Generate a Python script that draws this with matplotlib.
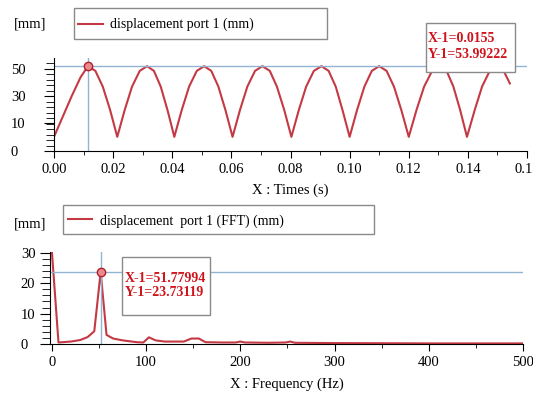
import matplotlib
matplotlib.use("Agg")
import matplotlib.pyplot as plt
from matplotlib.patches import Rectangle
from matplotlib.ticker import MultipleLocator

plt.rcParams["font.family"] = ["Liberation Serif", "DejaVu Serif"]

# displacement vs time
t = [0.0000, 0.0030, 0.0060, 0.0090, 0.0115, 0.0140, 0.0165, 0.0190, 0.0214,
     0.0239, 0.0264, 0.0290, 0.0315, 0.0338, 0.0361, 0.0384, 0.0407,
     0.0432, 0.0457, 0.0483, 0.0508, 0.0532, 0.0556, 0.0580, 0.0604,
     0.0629, 0.0654, 0.0680, 0.0705, 0.0730, 0.0754, 0.0779, 0.0803,
     0.0828, 0.0853, 0.0879, 0.0905, 0.0929, 0.0953, 0.0976, 0.1000,
     0.1025, 0.1050, 0.1075, 0.1100, 0.1125, 0.1150, 0.1175, 0.1200,
     0.1226, 0.1252, 0.1279, 0.1305, 0.1328, 0.1351, 0.1374, 0.1397,
     0.1423, 0.1448, 0.1474, 0.1500, 0.1521, 0.1542]
disp = [9, 22, 35, 47, 54, 51, 41, 26, 9,
        26, 41, 51, 54, 51, 41, 26, 9,
        26, 41, 51, 54, 51, 41, 26, 9,
        26, 41, 51, 54, 51, 41, 26, 9,
        26, 41, 51, 54, 51, 41, 26, 9,
        26, 41, 51, 54, 51, 41, 26, 9,
        26, 41, 51, 54, 51, 41, 26, 9,
        26, 41, 51, 54, 51, 43]

# FFT amplitude vs frequency
freq = [0, 7, 20, 30, 38, 45, 51.78, 58, 65, 75, 90, 97, 103, 110, 120, 140,
        148, 156, 163, 180, 195, 200, 205, 230, 248, 253, 258, 300, 400, 500]
amp = [30.5, 0.5, 0.8, 1.3, 2.3, 4.2, 23.73, 3.0, 1.8, 1.2, 0.6, 0.5, 2.2, 1.2, 0.8, 0.8,
       1.8, 1.8, 0.6, 0.5, 0.5, 0.8, 0.5, 0.4, 0.5, 0.8, 0.4, 0.3, 0.2, 0.2]

# cursor positions and the readouts printed in the boxes
cursor1 = (0.0115, 53.99222)
cursor1_text = ["X-1=0.0155", "Y-1=53.99222"]
cursor2 = (51.77994, 23.73119)
cursor2_text = ["X-1=51.77994", "Y-1=23.73119"]

top_yticks = [0, 18, 35, 52]
top_ylabels = ["0", "10", "30", "50"]

red = "#c43a44"
blue = "#92b4d2"
txt_red = "#d0141c"

fig = plt.figure(figsize=(5.33, 3.97), dpi=100)


def fx(px):
    return px / 533


def fy(py):
    return 1 - py / 397


def style_axes(ax):
    for s in ["top", "right"]:
        ax.spines[s].set_visible(False)
    ax.tick_params(axis="both", which="both", labelsize=10.5, direction="out")
    ax.tick_params(axis="x", which="major", length=5, pad=4)
    ax.tick_params(axis="x", which="minor", length=3)
    ax.tick_params(axis="y", which="major", length=7)
    ax.tick_params(axis="y", which="minor", length=6)


# ---- top: time signal ----
ax1 = fig.add_axes([fx(54), fy(151), fx(473), 93 / 397])
ax1.plot(t, disp, color=red, lw=1.5)
ax1.axhline(cursor1[1], color=blue, lw=1)
ax1.axvline(cursor1[0], color=blue, lw=1)
ax1.plot(cursor1[0], cursor1[1], "o", ms=6, mfc="#e98a90", mec="#b0202a", mew=1)
ax1.set_xlim(0, 0.16)
ax1.set_ylim(0, 59.2)
ax1.xaxis.set_major_locator(MultipleLocator(0.02))
ax1.xaxis.set_minor_locator(MultipleLocator(0.01))
ax1.xaxis.set_major_formatter(plt.FormatStrFormatter("%.2f"))
ax1.set_yticks(top_yticks)
ax1.set_yticklabels(top_ylabels, ha="left")
ax1.yaxis.set_minor_locator(MultipleLocator(3.5))
style_axes(ax1)
ax1.tick_params(axis="y", which="major", pad=24)
ax1.set_xlabel("X : Times (s)", fontsize=10.5, labelpad=5)

# ---- bottom: FFT ----
ax2 = fig.add_axes([fx(50), fy(344), fx(473), 92 / 397])
ax2.plot(freq, amp, color=red, lw=1.5)
ax2.axhline(cursor2[1], color=blue, lw=1)
ax2.axvline(cursor2[0], color=blue, lw=1)
ax2.plot(cursor2[0], cursor2[1], "o", ms=6, mfc="#e98a90", mec="#b0202a", mew=1)
ax2.set_xlim(-2, 500)
ax2.set_ylim(0, 30.3)
ax2.xaxis.set_major_locator(MultipleLocator(100))
ax2.xaxis.set_minor_locator(MultipleLocator(50))
ax2.set_yticks([0, 10, 20, 30])
ax2.set_yticklabels(["0", "10", "20", "30"], ha="left")
ax2.yaxis.set_minor_locator(MultipleLocator(2))
style_axes(ax2)
ax2.tick_params(axis="y", which="major", pad=14)
ax2.set_xlabel("X : Frequency (Hz)", fontsize=10.5, labelpad=6)

# ---- unit labels, legend boxes, cursor boxes ----
fig.text(fx(14), fy(24), "[mm]", fontsize=10.5, va="center")
fig.text(fx(14), fy(224), "[mm]", fontsize=10.5, va="center")


def box(x0, y0, x1, y1):
    fig.patches.append(Rectangle((fx(x0), fy(y1)), fx(x1 - x0), (y1 - y0) / 397,
                                 transform=fig.transFigure, facecolor="white",
                                 edgecolor="#8a8a8a", lw=1, zorder=5))


box(74, 8, 327, 39)
fig.lines.append(plt.Line2D([fx(78), fx(103)], [fy(24), fy(24)], color=red, lw=1.5,
                            transform=fig.transFigure, zorder=6))
fig.text(fx(110), fy(24), "displacement port 1 (mm)", fontsize=10, va="center", zorder=6)

box(63, 205, 374, 234)
fig.lines.append(plt.Line2D([fx(68), fx(92)], [fy(219), fy(219)], color=red, lw=1.5,
                            transform=fig.transFigure, zorder=6))
fig.text(fx(100), fy(221), "displacement  port 1 (FFT) (mm)", fontsize=10, va="center", zorder=6)

box(426, 23, 515, 72)
fig.text(fx(428), fy(38), cursor1_text[0], fontsize=10, fontweight="bold",
         color=txt_red, va="center", zorder=6)
fig.text(fx(428), fy(55), cursor1_text[1], fontsize=10, fontweight="bold",
         color=txt_red, va="center", zorder=6)

box(122, 257, 210, 315)
fig.text(fx(125), fy(278), cursor2_text[0], fontsize=10, fontweight="bold",
         color=txt_red, va="center", zorder=6)
fig.text(fx(125), fy(293), cursor2_text[1], fontsize=10, fontweight="bold",
         color=txt_red, va="center", zorder=6)

fig.savefig("out.png", dpi=100)
